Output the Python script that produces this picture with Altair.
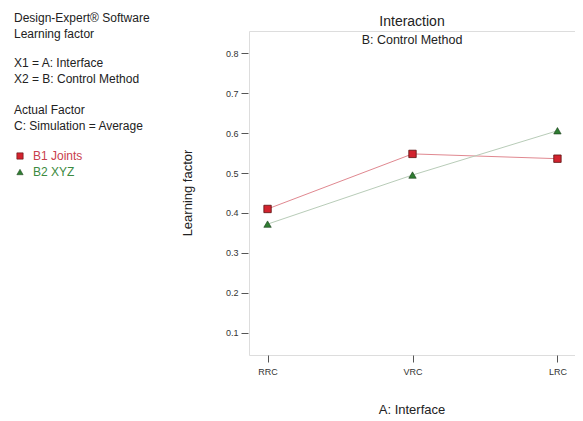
import altair as alt
import pandas as pd

interfaces = ["RRC", "VRC", "LRC"]
b1_joints = [0.410, 0.548, 0.536]
b2_xyz = [0.372, 0.495, 0.606]
series_names = ["B1 Joints", "B2 XYZ"]
y_ticks = [0.1, 0.2, 0.3, 0.4, 0.5, 0.6, 0.7, 0.8]
info_lines = [
    "Design-Expert® Software",
    "Learning factor",
    "",
    "X1 = A: Interface",
    "X2 = B: Control Method",
    "",
    "Actual Factor",
    "C: Simulation = Average",
]

rows = []
for s, vals in zip(series_names, [b1_joints, b2_xyz]):
    for i, v in zip(interfaces, vals):
        rows.append({"Interface": i, "Series": s, "Value": v})
df = pd.DataFrame(rows)

W, H = 327, 324
PL, PT = 241, 23

xenc = alt.X("Interface:N", sort=interfaces,
             scale=alt.Scale(type="point", padding=0.128),
             axis=alt.Axis(title=None, labelAngle=0, domain=False, tickSize=7,
                           tickColor="#555", labelFontSize=9, labelColor="#333",
                           labelPadding=5, labelFont="Liberation Sans", grid=False))
yenc = alt.Y("Value:Q", scale=alt.Scale(domain=[0.044, 0.856], nice=False, zero=False),
             axis=alt.Axis(title=None, values=y_ticks, format=".1f", domain=False,
                           tickSize=7, offset=1, tickColor="#555", labelFontSize=9,
                           labelColor="#333", labelPadding=3,
                           labelFont="Liberation Sans", grid=False))

colors = alt.Scale(domain=series_names, range=["#e08890", "#b8ccb8"])

lines = alt.Chart(df).mark_line(strokeWidth=1).encode(
    x=xenc, y=yenc,
    color=alt.Color("Series:N", scale=colors, legend=None),
    detail="Series:N",
)

pts_b1 = alt.Chart(df).transform_filter(alt.datum.Series == "B1 Joints").mark_point(
    shape="square", filled=True, size=55, color="#d2232e", stroke="#5a1010",
    strokeWidth=0.8, opacity=1).encode(x=xenc, y=yenc)
pts_b2 = alt.Chart(df).transform_filter(alt.datum.Series == "B2 XYZ").mark_point(
    shape="triangle-up", filled=True, size=55, color="#2f7d32", stroke="#1a3d1a",
    strokeWidth=0.6, opacity=1).encode(x=xenc, y=yenc)

one = alt.Data(values=[{}])

def txt(text, x, y, size=12, color="#222", align="left", angle=0, font="Liberation Sans"):
    return alt.Chart(one).mark_text(
        text=text, fontSize=size, color=color, align=align, baseline="middle",
        angle=angle, font=font).encode(x=alt.value(x), y=alt.value(y))

layers = [lines, pts_b1, pts_b2]

# left information block
info_y = [18, 34, 0, 63, 79, 0, 110, 126]
for line, yy in zip(info_lines, info_y):
    if line:
        layers.append(txt(line, 14 - 8 - PL, yy - 8 - PT))

layers.append(txt(series_names[0], 33 - 8 - PL, 156 - 8 - PT, color="#c8404c"))
layers.append(txt(series_names[1], 33 - 8 - PL, 172 - 8 - PT, color="#3c8a40"))
layers.append(alt.Chart(one).mark_point(shape="square", filled=True, size=40,
              color="#d2232e", stroke="#5a1010", strokeWidth=0.6, opacity=1).encode(
              x=alt.value(20 - 8 - PL), y=alt.value(156 - 8 - PT)))
layers.append(alt.Chart(one).mark_point(shape="triangle-up", filled=True, size=40,
              color="#2f7d32", stroke="#1a3d1a", strokeWidth=0.5, opacity=1).encode(
              x=alt.value(20 - 8 - PL), y=alt.value(172 - 8 - PT)))

# titles
layers.append(txt("Interaction", 412 - 8 - PL, 22 - 8 - PT, size=14, align="center"))
layers.append(txt("B: Control Method", 412 - 8 - PL, 40 - 8 - PT, size=12.5, align="center"))
layers.append(txt("Learning factor", 188 - 8 - PL, 193 - 8 - PT, size=13, align="center", angle=270))
layers.append(txt("A: Interface", 412 - 8 - PL, 410 - 8 - PT, size=13, align="center"))

chart = alt.layer(*layers).properties(
    width=W, height=H,
    autosize=alt.AutoSizeParams(type="none"),
    padding={"left": PL, "top": PT, "right": 583 - 16 - PL - W, "bottom": 421 - 8 - PT - H},
).configure_view(stroke="#888", strokeWidth=1.2).configure(background="white")

chart.save("out.html", embed_options={"renderer": "svg", "actions": False})
